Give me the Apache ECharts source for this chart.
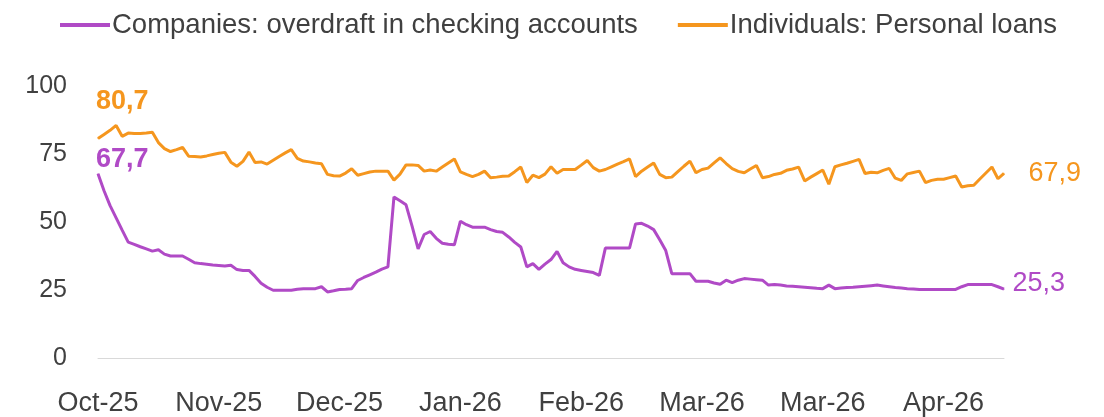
<!DOCTYPE html>
<html>
<head>
<meta charset="utf-8">
<script src="https://cdn.jsdelivr.net/npm/echarts@6/dist/echarts.min.js"></script>
<style>
  html, body { margin: 0; padding: 0; background: #fff; }
  #chart { width: 1104px; height: 417px; }
</style>
</head>
<body>
<div id="chart"></div>
<script>
// ---- Data ----
const seriesNames = ["Companies: overdraft in checking accounts", "Individuals: Personal loans"];
const tickLabels = ["Oct-25", "Nov-25", "Dec-25", "Jan-26", "Feb-26", "Mar-26", "Mar-26", "Apr-26"];
const tickStep = 20; // one tick label every 20 observations

const companies = [
  67.7, 61.5, 56.0, 51.5, 47.0, 42.6, 41.8, 40.9, 40.1, 39.3,
  39.8, 38.2, 37.5, 37.5, 37.5, 36.3, 35.0, 34.7, 34.5, 34.2,
  34.0, 33.8, 34.1, 32.5, 32.2, 32.2, 30.0, 27.5, 26.0, 24.9,
  24.9, 24.9, 24.9, 25.3, 25.5, 25.5, 25.5, 26.2, 24.3, 24.7,
  25.2, 25.3, 25.5, 28.5, 29.6, 30.6, 31.6, 32.7, 33.5, 59.2,
  57.8, 56.3, 48.5, 40.1, 45.4, 46.5, 44.0, 42.2, 41.8, 41.6,
  50.3, 49.0, 48.1, 48.1, 48.1, 47.2, 46.5, 46.2, 44.5, 42.5,
  40.8, 33.5, 34.7, 32.6, 34.5, 36.2, 39.2, 35.0, 33.5, 32.6,
  32.2, 31.8, 31.4, 30.4, 40.4, 40.4, 40.4, 40.4, 40.4, 49.3,
  49.5, 48.5, 47.2, 43.5, 39.5, 31.0, 31.0, 31.0, 31.0, 28.2,
  28.2, 28.2, 27.6, 27.1, 28.6, 27.7, 28.6, 29.2, 29.0, 28.8,
  28.6, 26.8, 27.0, 26.8, 26.5, 26.4, 26.2, 26.0, 25.8, 25.6,
  25.5, 26.8, 25.5, 25.7, 25.9, 26.0, 26.2, 26.4, 26.6, 26.8,
  26.5, 26.2, 25.9, 25.7, 25.5, 25.4, 25.2, 25.2, 25.2, 25.2,
  25.2, 25.2, 25.2, 26.2, 27.0, 27.0, 27.0, 27.0, 27.0, 26.2,
  25.3
];

const individuals = [
  80.7, 82.2, 83.7, 85.5, 81.5, 82.7, 82.5, 82.5, 82.7, 83.0,
  79.2, 77.0, 75.9, 76.6, 77.4, 74.2, 74.1, 73.9, 74.3, 74.8,
  75.3, 75.6, 72.0, 70.5, 72.3, 75.7, 71.9, 72.1, 71.3, 72.7,
  74.1, 75.4, 76.6, 73.4, 72.4, 72.1, 71.7, 71.4, 67.5, 67.0,
  66.9, 68.0, 69.6, 67.2, 67.8, 68.4, 68.7, 68.7, 68.7, 65.4,
  67.6, 71.0, 71.0, 70.8, 68.7, 69.1, 68.7, 70.2, 71.7, 73.2,
  68.4, 67.5, 66.7, 67.5, 68.7, 66.3, 66.5, 66.8, 66.9, 68.5,
  70.2, 64.5, 67.2, 66.3, 67.6, 70.3, 67.9, 69.3, 69.3, 69.3,
  70.9, 72.6, 70.0, 68.7, 69.3, 70.3, 71.3, 72.2, 73.2, 66.7,
  68.7, 70.2, 71.7, 67.5, 66.3, 66.5, 68.5, 70.5, 72.4, 68.1,
  69.3, 69.8, 71.7, 73.6, 71.5, 69.6, 68.6, 68.1, 69.5, 70.8,
  66.3, 66.7, 67.5, 67.9, 69.0, 69.5, 70.2, 65.1, 66.5, 67.8,
  69.1, 63.9, 70.3, 71.0, 71.6, 72.3, 73.0, 67.8, 68.3, 68.1,
  69.0, 69.7, 66.1, 65.3, 67.7, 68.2, 68.7, 64.5, 65.3, 65.7,
  65.7, 66.3, 66.9, 62.9, 63.3, 63.5, 65.8, 68.0, 70.2, 65.9,
  67.9
];

const yTicks = { min: 0, max: 100, interval: 25 };

// ---- Build options ----
const categories = companies.map((_, i) => String(i));
const lastIdx = companies.length - 1;
const purple = '#B04AC6';
const orange = '#F5961E';
const textGray = '#404040';
const font = "'Liberation Sans', Arial, sans-serif";

const fmt = v => v.toFixed(1).replace('.', ',');

function lbl(opts) {
  return Object.assign({ show: true, fontSize: 27, opacity: 1, fontFamily: font }, opts);
}

const chart = echarts.init(document.getElementById('chart'), null, { renderer: 'canvas' });
chart.setOption({
  animation: false,
  backgroundColor: '#ffffff',
  textStyle: { fontFamily: font },
  legend: {
    data: seriesNames,
    left: 55,
    top: 6,
    icon: 'rect',
    itemWidth: 50,
    itemHeight: 4,
    itemGap: 40,
    textStyle: { fontSize: 27.5, color: textGray, fontFamily: font, padding: [0, 0, 0, -3] }
  },
  grid: { left: 98, right: 100, top: 86, bottom: 57 },
  xAxis: {
    type: 'category',
    data: categories,
    boundaryGap: false,
    axisLine: { show: true, lineStyle: { color: '#d9d9d9', width: 1 } },
    axisTick: { show: false },
    splitLine: { show: false },
    axisLabel: {
      interval: (index) => index % tickStep === 0,
      formatter: (value, index) => tickLabels[Math.round(Number(value) / tickStep)] || '',
      color: textGray,
      fontSize: 27,
      fontFamily: font,
      margin: 32
    }
  },
  yAxis: {
    type: 'value',
    min: yTicks.min,
    max: yTicks.max,
    interval: yTicks.interval,
    axisLine: { show: false },
    axisTick: { show: false },
    splitLine: { show: false },
    axisLabel: { color: textGray, fontSize: 25, fontFamily: font, margin: 31 }
  },
  series: [
    {
      name: seriesNames[0],
      type: 'line',
      data: companies,
      symbol: 'none',
      lineStyle: { color: purple, width: 3 },
      itemStyle: { color: purple },
      z: 3
    },
    {
      name: seriesNames[1],
      type: 'line',
      data: individuals,
      symbol: 'none',
      lineStyle: { color: orange, width: 3 },
      itemStyle: { color: orange },
      z: 3
    },
    {
      name: 'labels-companies',
      type: 'scatter',
      silent: true,
      symbolSize: 1,
      itemStyle: { color: purple, opacity: 1 },
      data: [
        { value: [0, companies[0]], label: lbl({ position: 'top', align: 'left', offset: [-2, 5], fontWeight: 'bold', color: purple, formatter: () => fmt(companies[0]) }) },
        { value: [lastIdx, companies[lastIdx]], label: lbl({ position: 'right', distance: 8, offset: [0, -6], color: purple, formatter: () => fmt(companies[lastIdx]) }) }
      ],
      z: 2
    },
    {
      name: 'labels-individuals',
      type: 'scatter',
      silent: true,
      symbolSize: 1,
      itemStyle: { color: orange, opacity: 1 },
      data: [
        { value: [0, individuals[0]], label: lbl({ position: 'top', align: 'left', offset: [-2, -18], fontWeight: 'bold', color: orange, formatter: () => fmt(individuals[0]) }) },
        { value: [lastIdx, individuals[lastIdx]], label: lbl({ position: 'right', distance: 24, color: orange, formatter: () => fmt(individuals[lastIdx]) }) }
      ],
      z: 2
    }
  ]
});
</script>
</body>
</html>
